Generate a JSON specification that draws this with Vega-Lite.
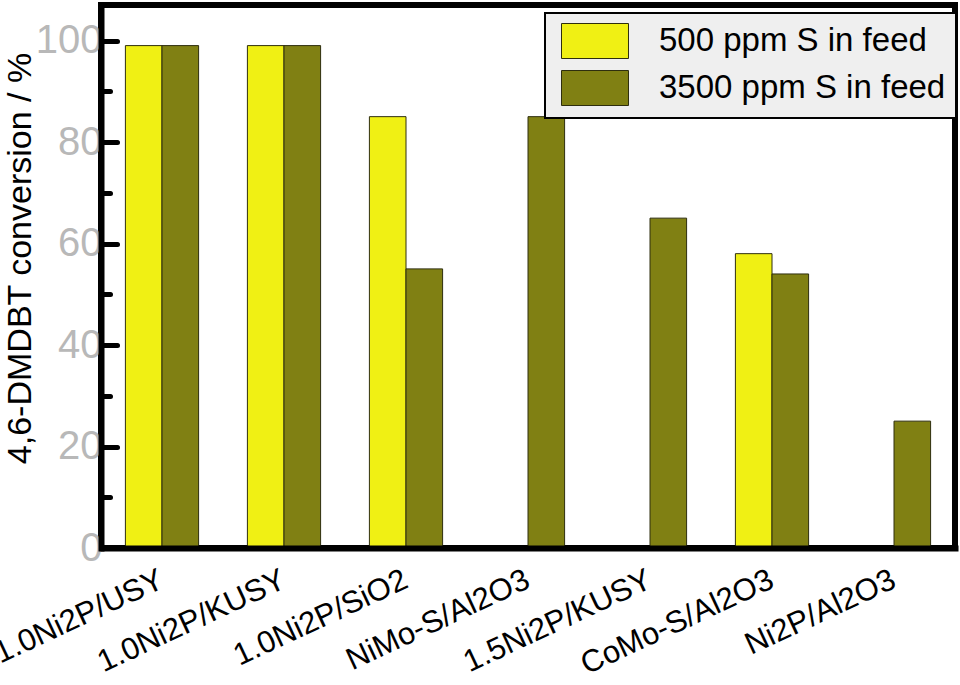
{
  "$schema": "https://vega.github.io/schema/vega-lite/v6.json",
  "width": 854,
  "height": 543,
  "autosize": {"type": "none"},
  "padding": {"left": 101, "top": 5, "right": 5, "bottom": 137},
  "background": "white",
  "config": {
    "view": {"stroke": "black", "strokeWidth": 6},
    "font": "Liberation Sans",
    "legend": {"strokeWidth": 2}
  },
  "data": {
    "values": [
      {"catalyst": "1.0Ni2P/USY", "feed": "500 ppm S in feed", "conversion": 99},
      {"catalyst": "1.0Ni2P/USY", "feed": "3500 ppm S in feed", "conversion": 99},
      {"catalyst": "1.0Ni2P/KUSY", "feed": "500 ppm S in feed", "conversion": 99},
      {"catalyst": "1.0Ni2P/KUSY", "feed": "3500 ppm S in feed", "conversion": 99},
      {"catalyst": "1.0Ni2P/SiO2", "feed": "500 ppm S in feed", "conversion": 85},
      {"catalyst": "1.0Ni2P/SiO2", "feed": "3500 ppm S in feed", "conversion": 55},
      {"catalyst": "NiMo-S/Al2O3", "feed": "3500 ppm S in feed", "conversion": 85},
      {"catalyst": "1.5Ni2P/KUSY", "feed": "3500 ppm S in feed", "conversion": 65},
      {"catalyst": "CoMo-S/Al2O3", "feed": "500 ppm S in feed", "conversion": 58},
      {"catalyst": "CoMo-S/Al2O3", "feed": "3500 ppm S in feed", "conversion": 54},
      {"catalyst": "Ni2P/Al2O3", "feed": "3500 ppm S in feed", "conversion": 25}
    ]
  },
  "mark": {"type": "bar", "stroke": "#2e2e0e", "strokeWidth": 1},
  "encoding": {
    "x": {
      "field": "catalyst",
      "type": "nominal",
      "sort": null,
      "scale": {"paddingInner": 0.4, "paddingOuter": 0.2},
      "axis": {
        "title": null,
        "labelAngle": -25,
        "labelFontSize": 31,
        "labelColor": "black",
        "labelAlign": "right",
        "labelBaseline": "middle",
        "labelPadding": 30,
        "labelLimit": 0,
        "ticks": false,
        "domain": true,
        "domainWidth": 6,
        "domainColor": "black",
        "domainCap": "square",
        "zindex": 1
      }
    },
    "xOffset": {
      "field": "feed",
      "type": "nominal",
      "sort": ["500 ppm S in feed", "3500 ppm S in feed"],
      "scale": {"paddingInner": 0, "paddingOuter": 0}
    },
    "y": {
      "field": "conversion",
      "type": "quantitative",
      "scale": {"domain": [0, 107], "nice": false},
      "axis": {
        "title": "4,6-DMDBT conversion / %",
        "values": [0, 10, 20, 30, 40, 50, 60, 70, 80, 90, 100],
        "labelExpr": "datum.value % 20 === 0 ? datum.label : ''",
        "tickSize": {"condition": {"test": "datum.value % 20 === 0", "value": -16}, "value": -9},
        "tickWidth": 5,
        "tickCap": "round",
        "tickColor": "black",
        "domain": true,
        "domainWidth": 6,
        "domainColor": "black",
        "domainCap": "square",
        "grid": false,
        "labelFontSize": 40,
        "labelColor": "#b8b8b8",
        "labelPadding": 15,
        "labelBaseline": "middle",
        "titleFontSize": 34,
        "titleFontWeight": "normal",
        "titleColor": "black",
        "titleX": -81,
        "titleY": 253,
        "titleAngle": -90,
        "titleAlign": "center",
        "titleBaseline": "middle",
        "zindex": 1
      }
    },
    "color": {
      "field": "feed",
      "type": "nominal",
      "scale": {
        "domain": ["500 ppm S in feed", "3500 ppm S in feed"],
        "range": ["#f0f014", "#808013"]
      },
      "legend": {
        "title": null,
        "orient": "none",
        "legendX": 444,
        "legendY": 8,
        "fillColor": "#efefef",
        "strokeColor": "black",
        "padding": 10,
        "symbolType": "M-1.914,-1H1.914V1H-1.914Z",
        "symbolSize": 1225,
        "symbolStrokeColor": "#2e2e0e",
        "symbolStrokeWidth": 1,
        "symbolOpacity": 1,
        "symbolOffset": 22,
        "labelOffset": 46,
        "labelFontSize": 33,
        "labelColor": "black",
        "rowPadding": 7,
        "labelLimit": 0
      }
    }
  }
}
